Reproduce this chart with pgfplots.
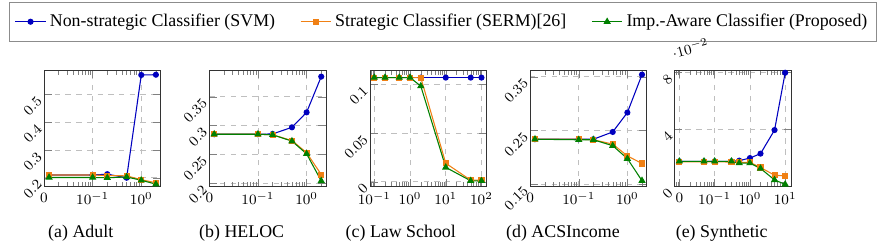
\documentclass[border=0pt]{standalone}
\usepackage{fontspec}
\setmainfont{Liberation Serif}
\usepackage{pgfplots}
\pgfplotsset{compat=1.18}
\definecolor{cblue}{RGB}{0,0,191}
\definecolor{corange}{RGB}{240,128,20}
\definecolor{cgreen}{RGB}{0,128,0}
\pgfplotsset{
  sub/.style={scale only axis, width=65.3pt, height=65.3pt,
    anchor=north west, grid=major,
    major grid style={dashed, black!25},
    axis line style={black!80},
    tick label style={font=\fontsize{8.3}{9}\selectfont},
    yticklabel style={rotate=45, anchor=east},
    every axis plot/.append style={semithick, mark size=1.4pt},
    scaled y ticks=false,
  },
  sb/.style={cblue, mark=*},
  so/.style={corange, mark=square*},
  sg/.style={cgreen, mark=triangle*, mark size=1.8pt},
  mA/.style={minor xtick={0.02,0.03,0.04,0.05,0.06,0.07,0.08,0.09,0.2,0.3,0.4,0.5,0.6,0.7,0.8,0.9,2}},
}
\begin{document}
\begin{tikzpicture}
\path[use as bounding box] (0,0) rectangle (497.2pt,-138.9pt);
% (a) Adult
\begin{semilogxaxis}[sub, mA, at={(24.64pt,-39.2pt)},
  xmin=0.01, xmax=2.5, ymin=0.168, ymax=0.589,
  xtick={0.01,0.1,1}, xticklabels={$0$,$10^{-1}$,$10^{0}$},
  ytick={0.2,0.3,0.4,0.5}, yticklabels={$0.2$,$0.3$,$0.4$,$0.5$},
  legend columns=3,
  legend style={at={(3.42,1.582)}, anchor=north, draw=black!45,
    inner ysep=4.5pt,
    font=\fontsize{10}{12}\selectfont,
    /tikz/every even column/.append style={column sep=12pt}},
  ]
\addplot[sb] coordinates {(0.0127,0.210) (0.1,0.210) (0.2,0.213) (0.5,0.200) (1,0.571) (2,0.572)};
\addplot[so] coordinates {(0.0127,0.210) (0.1,0.210) (0.2,0.208) (0.5,0.207) (1,0.193) (2,0.182)};
\addplot[sg] coordinates {(0.0127,0.201) (0.1,0.201) (0.2,0.200) (0.5,0.203) (1,0.191) (2,0.177)};
\legend{Non-strategic Classifier (SVM), Strategic Classifier (SERM)[26], Imp.-Aware Classifier (Proposed)}
\end{semilogxaxis}
% (b) HELOC
\begin{semilogxaxis}[sub, mA, at={(117.2pt,-39.2pt)},
  xmin=0.01, xmax=2.5, ymin=0.194, ymax=0.3965,
  xtick={0.01,0.1,1}, xticklabels={$0$,$10^{-1}$,$10^{0}$},
  ytick={0.2,0.25,0.3,0.35}, yticklabels={$0.2$,$0.25$,$0.3$,$0.35$},
  ]
\addplot[sb] coordinates {(0.0126,0.285) (0.1,0.285) (0.2,0.2855) (0.5,0.297) (1,0.323) (2,0.385)};
\addplot[so] coordinates {(0.0126,0.285) (0.1,0.285) (0.2,0.284) (0.5,0.274) (1,0.253) (2,0.215)};
\addplot[sg] coordinates {(0.0126,0.285) (0.1,0.285) (0.2,0.284) (0.5,0.273) (1,0.251) (2,0.204)};
\end{semilogxaxis}
% (c) Law School
\begin{semilogxaxis}[sub, at={(207.2pt,-39.2pt)},
  xmin=0.076, xmax=140, ymin=-0.005, ymax=0.1148,
  xtick={0.1,1,10,100}, xticklabels={$10^{-1}$,$10^{0}$,$10^{1}$,$10^{2}$},
  minor xtick={0.08,0.09,0.2,0.3,0.4,0.5,0.6,0.7,0.8,0.9,2,3,4,5,6,7,8,9,20,30,40,50,60,70,80,90},
  ytick={0,0.05,0.1}, yticklabels={$0$,$0.05$,$0.1$},
  ]
\addplot[sb] coordinates {(0.1,0.107) (0.2,0.107) (0.5,0.107) (1,0.107) (2,0.107) (10,0.107) (50,0.107) (100,0.107)};
\addplot[so] coordinates {(0.1,0.107) (0.2,0.107) (0.5,0.107) (1,0.107) (2,0.107) (10,0.019) (50,0.0017) (100,0.0017)};
\addplot[sg] coordinates {(0.1,0.107) (0.2,0.107) (0.5,0.107) (1,0.107) (2,0.0983) (10,0.0148) (50,0.001) (100,0.001)};
\end{semilogxaxis}
% (d) ACSIncome
\begin{semilogxaxis}[sub, mA, at={(296.8pt,-39.2pt)},
  xmin=0.01, xmax=2.5, ymin=0.146, ymax=0.3625,
  xtick={0.01,0.1,1}, xticklabels={$0$,$10^{-1}$,$10^{0}$},
  ytick={0.15,0.25,0.35}, yticklabels={$0.15$,$0.25$,$0.35$},
  ]
\addplot[sb] coordinates {(0.0126,0.234) (0.1,0.234) (0.2,0.234) (0.5,0.2475) (1,0.2835) (2,0.354)};
\addplot[so] coordinates {(0.0126,0.234) (0.1,0.234) (0.2,0.233) (0.5,0.225) (1,0.203) (2,0.189)};
\addplot[sg] coordinates {(0.0126,0.234) (0.1,0.233) (0.2,0.233) (0.5,0.222) (1,0.198) (2,0.157)};
\end{semilogxaxis}
% (e) Synthetic
\begin{semilogxaxis}[sub, at={(377.8pt,-39.2pt)},
  xmin=0.0074, xmax=15, ymin=-0.0002, ymax=0.0814,
  xtick={0.01,0.1,1,10}, xticklabels={$0$,$10^{-1}$,$10^{0}$,$10^{1}$},
  minor xtick={0.008,0.009,0.02,0.03,0.04,0.05,0.06,0.07,0.08,0.09,0.2,0.3,0.4,0.5,0.6,0.7,0.8,0.9,2,3,4,5,6,7,8,9},
  ytick={0,0.04,0.08},
  scaled y ticks=base 10:2,
  every y tick scale label/.style={at={(rel axis cs:0,1)}, anchor=south west, rotate=-30, inner sep=1pt, yshift=5pt, font=\fontsize{8.3}{9}\selectfont},
  ]
\addplot[sb] coordinates {(0.01,0.0175) (0.05,0.0175) (0.1,0.0175) (0.3,0.0175) (0.5,0.018) (1,0.0198) (2,0.0229) (5,0.0394) (10,0.0795)};
\addplot[so] coordinates {(0.01,0.0172) (0.05,0.0172) (0.1,0.0172) (0.3,0.017) (0.5,0.0168) (1,0.0168) (2,0.0132) (5,0.0078) (10,0.0073)};
\addplot[sg] coordinates {(0.01,0.0175) (0.05,0.0175) (0.1,0.0175) (0.3,0.0175) (0.5,0.0163) (1,0.0163) (2,0.0125) (5,0.0045) (10,0.0014)};
\end{semilogxaxis}
\node[anchor=base] at (45.2pt,-132.9pt) {(a) Adult};
\node[anchor=base] at (135.3pt,-132.9pt) {(b) HELOC};
\node[anchor=base] at (224.4pt,-132.9pt) {(c) Law School};
\node[anchor=base] at (315.2pt,-132.9pt) {(d) ACSIncome};
\node[anchor=base] at (404.1pt,-132.9pt) {(e) Synthetic};
\end{tikzpicture}
\end{document}
